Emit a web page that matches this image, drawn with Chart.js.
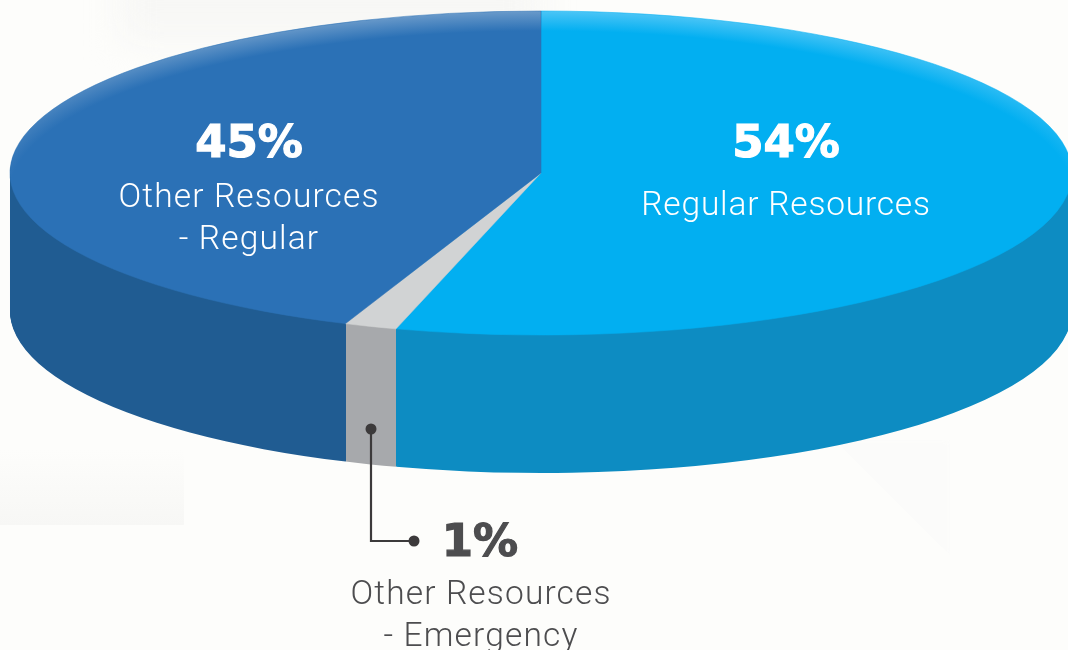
<!DOCTYPE html>
<html>
<head>
<meta charset="utf-8">
<script src="https://cdn.jsdelivr.net/npm/chart.js@4/dist/chart.umd.min.js"></script>
<style>
  html, body { margin: 0; padding: 0; background: #fdfdfb; }
  #wrap { position: relative; width: 1068px; height: 650px; overflow: hidden; }
  canvas { position: absolute; left: 0; top: 0; }
  .bg { position: absolute; }
  .lbl { position: absolute; transform: translateX(-50%); text-align: center; white-space: nowrap; line-height: 1; }
  .pct { font: bold 45px "DejaVu Sans", sans-serif; -webkit-text-stroke: 1.2px currentColor; }
  .txt { font: 300 33.5px Roboto, "Open Sans", sans-serif; line-height: 42px; letter-spacing: 1.15px; }
  .white { color: #fff; }
  .grey { color: #4d4d4f; }
</style>
</head>
<body>
<div id="wrap">
  <div class="bg" style="left:0;top:450px;width:184px;height:75px;background:linear-gradient(#fdfdfb,#f7f7f5)"></div>
  <div class="bg" style="left:120px;top:-30px;width:420px;height:70px;background:#f7f7f5;filter:blur(18px)"></div>
  <div class="bg" style="left:835px;top:440px;width:115px;height:115px;background:#fbfbfa;filter:blur(3px);clip-path:polygon(0 0,100% 0,100% 100%)"></div>
  <canvas id="pie" width="1068" height="650"></canvas>
  <div class="lbl pct white" style="left:249px;top:115px">45%</div>
  <div class="lbl txt white" style="left:249px;top:175px">Other Resources<br>- Regular</div>
  <div class="lbl pct white" style="left:786px;top:115px">54%</div>
  <div class="lbl txt white" style="left:786px;top:183px;letter-spacing:0.8px">Regular Resources</div>
  <div class="lbl pct grey" style="left:480px;top:514px">1%</div>
  <div class="lbl txt grey" style="left:481px;top:572px">Other Resources<br>- Emergency</div>
</div>
<script>
// slice names, and their share of the disc
const categories = ['Regular Resources', 'Other Resources - Emergency', 'Other Resources - Regular'];
const shares = [54.4, 1.6, 44];

const topColors = ['#02aff1', '#d1d3d4', '#2b71b6'];
const rimColors = ['#4cc5f6', '#d1d3d4', '#6a9aca'];
const sideColors = ['#0d8cc2', '#a7a9ac', '#205c92'];

// the disc on the page
const centerX = 541, centerY = 173;
const radiusX = 531, radiusY = 162;
const depth = 138;
const rimWidth = 40;

// chart.js keeps the pie round and inside the canvas, so squash it here
function project(ctx, arc, dy) {
  ctx.translate(centerX, centerY + dy);
  ctx.scale(radiusX / arc.outerRadius, radiusY / arc.outerRadius);
  ctx.translate(-arc.x, -arc.y);
}

// crescent of light along the back edge
function rimGradient(c) {
  const chart = c.chart;
  const x = chart.width / 2, y = chart.height / 2;
  const r = Math.min(chart.width, chart.height) / 2;
  const outer = r + rimWidth;
  const g = chart.ctx.createRadialGradient(x, y + rimWidth, 0, x, y + rimWidth, outer);
  g.addColorStop(0, topColors[c.dataIndex]);
  g.addColorStop(r / outer, topColors[c.dataIndex]);
  g.addColorStop(1, rimColors[c.dataIndex]);
  return g;
}

const discPlugin = {
  id: 'disc',
  beforeDatasetsDraw(chart) {
    const ctx = chart.ctx;
    const arcs = chart.getDatasetMeta(0).data;
    // side wall: the same arcs stacked downward, painted under what is there
    ctx.save();
    ctx.globalCompositeOperation = 'destination-over';
    for (let d = 1; d <= depth; d++) {
      arcs.forEach((arc, i) => {
        const opts = arc.options;
        arc.options = Object.assign({}, opts, { backgroundColor: sideColors[i], borderWidth: 0 });
        ctx.save();
        project(ctx, arc, d);
        arc.draw(ctx);
        ctx.restore();
        arc.options = opts;
      });
    }
    // edge antialiasing leaves faint stripes in the stack, flatten them per slice
    ctx.globalCompositeOperation = 'source-atop';
    const rimX = a => Math.round(centerX + radiusX * Math.cos(a));
    const edges = [chart.width, rimX(arcs[0].endAngle), rimX(arcs[1].endAngle), 0];
    arcs.forEach((arc, i) => {
      ctx.fillStyle = sideColors[i];
      ctx.fillRect(edges[i + 1], 0, edges[i] - edges[i + 1], chart.height);
    });
    ctx.restore();
    ctx.save();
    project(ctx, arcs[0], 0);
  },
  afterDatasetsDraw(chart) {
    const ctx = chart.ctx;
    ctx.restore();
    // leader for the 1% slice
    ctx.save();
    ctx.strokeStyle = '#3c3a3b';
    ctx.fillStyle = '#3c3a3b';
    ctx.lineWidth = 2.2;
    ctx.beginPath();
    ctx.moveTo(371, 429);
    ctx.lineTo(371, 541);
    ctx.lineTo(414, 541);
    ctx.stroke();
    ctx.beginPath();
    ctx.arc(371, 429, 5.5, 0, Math.PI * 2);
    ctx.fill();
    ctx.beginPath();
    ctx.arc(414, 541, 5.5, 0, Math.PI * 2);
    ctx.fill();
    ctx.restore();
  }
};

new Chart(document.getElementById('pie'), {
  type: 'pie',
  plugins: [discPlugin],
  data: {
    labels: categories,
    datasets: [{
      data: shares,
      clip: false,
      backgroundColor: rimGradient,
      borderColor: topColors,
      borderWidth: 0.5
    }]
  },
  options: {
    responsive: false,
    animation: false,
    rotation: 0,
    layout: { padding: 0 },
    plugins: { legend: { display: false }, tooltip: { enabled: false } }
  }
});
</script>
</body>
</html>
